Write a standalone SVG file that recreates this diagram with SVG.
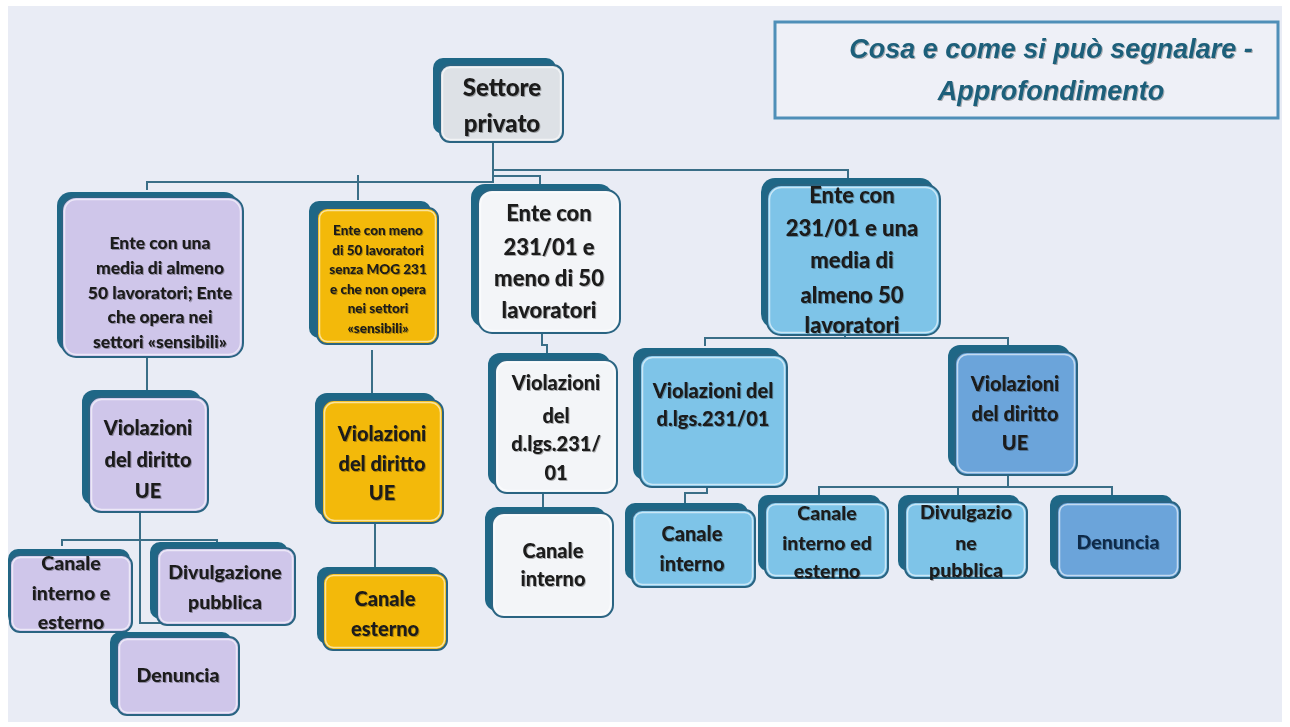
<svg xmlns="http://www.w3.org/2000/svg" width="1290" height="727" viewBox="0 0 1290 727">
<defs>
<filter id="ts" x="-10%" y="-30%" width="120%" height="160%">
<feDropShadow dx="1" dy="1" stdDeviation="0.7" flood-color="#000000" flood-opacity="0.3"/>
</filter>
<style>
.bg{fill:#e9ecf5}
.back{fill:#1f6786}
.front{stroke:#2a6482;stroke-width:2}
.hl{fill:none;stroke:#ffffff;stroke-opacity:0.6;stroke-width:1.5}
.gray{fill:#dde1e6}
.lav{fill:#cfc6ea}
.yel{fill:#f3b90a}
.wht{fill:#f3f5f8}
.blu{fill:#7ec4e8}
.dbl{fill:#6ba4da}
.t{font-family:Lato,"Liberation Sans",sans-serif;font-weight:900;fill:#1a1a1a;text-anchor:middle;filter:url(#ts)}
.s22{font-size:24px}
.s21{font-size:22px}
.s19{font-size:20px}
.s18{font-size:19.5px}
.s16{font-size:17.5px}
.s12{font-size:13.5px}
.title{font-family:"Liberation Sans",sans-serif;font-weight:bold;font-style:italic;font-size:27px;fill:#1e5f7a;text-anchor:middle;filter:url(#ts)}
.c{fill:none;stroke:#3a6e87;stroke-width:2}
</style>
</defs>
<rect x="0" y="0" width="1290" height="727" fill="#ffffff"/>
<rect class="bg" x="8" y="6" width="1274" height="716"/>

<g id="title">
<rect x="775" y="22" width="503" height="96" fill="#eef0f7" stroke="#4f8fb8" stroke-width="3"/>
<text class="title" x="1051" y="58">Cosa e come si può segnalare -</text>
<text class="title" x="1051" y="100">Approfondimento</text>
</g>

<g id="connectors">
<polyline class="c" points="493,142 493,183"/>
<polyline class="c" points="493,170 848,170 848,180"/>
<polyline class="c" points="493,176 540,176 540,186"/>
<polyline class="c" points="147,190 147,182 493,182"/>
<polyline class="c" points="358,175 358,200"/>
<polyline class="c" points="147,357 147,391"/>
<polyline class="c" points="140,512 140,623 168,623"/>
<polyline class="c" points="62,546 62,540 217,540 217,546"/>
<polyline class="c" points="372,350 372,393"/>
<polyline class="c" points="375,523 375,567"/>
<polyline class="c" points="542,333 542,345 547,345 547,353"/>
<polyline class="c" points="543,493 543,507"/>
<polyline class="c" points="845,335 845,338"/>
<polyline class="c" points="705,346 705,338 1008,338 1008,346"/>
<polyline class="c" points="707,487 707,493 685,493 685,503"/>
<polyline class="c" points="1008,475 1008,487"/>
<polyline class="c" points="819,495 819,487 1112,487 1112,495"/>
<polyline class="c" points="958,487 958,495"/>
</g>

<g id="n-settore">
<rect class="back" x="433" y="58" width="123" height="76" rx="10"/>
<rect class="front gray" x="440" y="65" width="123" height="77" rx="10"/>
<rect class="hl" x="442.5" y="67.5" width="118" height="72" rx="8"/>
<text class="t s22" x="502" y="96">Settore</text>
<text class="t s22" x="502" y="132">privato</text>
</g>

<g id="n-ente50">
<rect class="back" x="57" y="192" width="181" height="160" rx="14"/>
<rect class="front lav" x="62" y="197" width="181" height="160" rx="14"/>
<rect class="hl" x="64.5" y="199.5" width="176" height="155" rx="12"/>
<text class="t s16" x="160" y="249">Ente con una</text>
<text class="t s16" x="160" y="274">media di almeno</text>
<text class="t s16" x="160" y="299">50 lavoratori; Ente</text>
<text class="t s16" x="160" y="323">che opera nei</text>
<text class="t s16" x="160" y="348">settori «sensibili»</text>
</g>

<g id="n-entemeno50">
<rect class="back" x="309" y="201" width="122" height="137" rx="10"/>
<rect class="front yel" x="317" y="208" width="121" height="136" rx="10"/>
<rect class="hl" x="319.5" y="210.5" width="116" height="131" rx="8"/>
<text class="t s12" x="378" y="235">Ente con meno</text>
<text class="t s12" x="378" y="255">di 50 lavoratori</text>
<text class="t s12" x="378" y="274">senza MOG 231</text>
<text class="t s12" x="378" y="294">e che non opera</text>
<text class="t s12" x="378" y="313">nei settori</text>
<text class="t s12" x="378" y="333">«sensibili»</text>
</g>

<g id="n-ente231meno">
<rect class="back" x="471" y="184" width="142" height="143" rx="14"/>
<rect class="front wht" x="478" y="190" width="142" height="143" rx="14"/>
<rect class="hl" x="480.5" y="192.5" width="137" height="138" rx="12"/>
<text class="t s21" x="549" y="221">Ente con</text>
<text class="t s21" x="549" y="255">231/01 e</text>
<text class="t s21" x="549" y="286">meno di 50</text>
<text class="t s21" x="549" y="318">lavoratori</text>
</g>

<g id="n-ente231media">
<rect class="back" x="761" y="178" width="173" height="150" rx="14"/>
<rect class="front blu" x="767" y="185" width="173" height="150" rx="14"/>
<rect class="hl" x="769.5" y="187.5" width="168" height="145" rx="12"/>
<text class="t s21" x="852" y="203">Ente con</text>
<text class="t s21" x="852" y="236">231/01 e una</text>
<text class="t s21" x="852" y="268">media di</text>
<text class="t s21" x="852" y="303">almeno 50</text>
<text class="t s21" x="852" y="333">lavoratori</text>
</g>

<g id="n-lav-viol">
<rect class="back" x="82" y="390" width="119" height="115" rx="12"/>
<rect class="front lav" x="89" y="397" width="119" height="115" rx="12"/>
<rect class="hl" x="91.5" y="399.5" width="114" height="110" rx="10"/>
<text class="t s19" x="148" y="435">Violazioni</text>
<text class="t s19" x="148" y="467">del diritto</text>
<text class="t s19" x="148" y="498">UE</text>
</g>

<g id="n-lav-canale">
<rect class="back" x="8" y="549" width="122" height="77" rx="10"/>
<rect class="front lav" x="10" y="555" width="122" height="77" rx="10"/>
<rect class="hl" x="12.5" y="557.5" width="117" height="72" rx="8"/>
<text class="t s18" x="71" y="570">Canale</text>
<text class="t s18" x="71" y="600">interno e</text>
<text class="t s18" x="71" y="629">esterno</text>
</g>

<g id="n-lav-divulg">
<rect class="back" x="150" y="542" width="138" height="77" rx="10"/>
<rect class="front lav" x="157" y="548" width="138" height="77" rx="10"/>
<rect class="hl" x="159.5" y="550.5" width="133" height="72" rx="8"/>
<text class="t s18" x="225" y="579">Divulgazione</text>
<text class="t s18" x="225" y="609">pubblica</text>
</g>

<g id="n-lav-denuncia">
<rect class="back" x="110" y="632" width="122" height="78" rx="10"/>
<rect class="front lav" x="117" y="637" width="122" height="78" rx="10"/>
<rect class="hl" x="119.5" y="639.5" width="117" height="73" rx="8"/>
<text class="t s18" x="178" y="682">Denuncia</text>
</g>

<g id="n-yel-viol">
<rect class="back" x="315" y="393" width="121" height="123" rx="12"/>
<rect class="front yel" x="322" y="400" width="121" height="123" rx="12"/>
<rect class="hl" x="324.5" y="402.5" width="116" height="118" rx="10"/>
<text class="t s19" x="382" y="441">Violazioni</text>
<text class="t s19" x="382" y="471">del diritto</text>
<text class="t s19" x="382" y="500">UE</text>
</g>

<g id="n-yel-canale">
<rect class="back" x="317" y="567" width="124" height="77" rx="10"/>
<rect class="front yel" x="323" y="573" width="124" height="77" rx="10"/>
<rect class="hl" x="325.5" y="575.5" width="119" height="72" rx="8"/>
<text class="t s19" x="385" y="606">Canale</text>
<text class="t s19" x="385" y="636">esterno</text>
</g>

<g id="n-wht-viol">
<rect class="back" x="488" y="353" width="122" height="133" rx="12"/>
<rect class="front wht" x="495" y="360" width="122" height="133" rx="12"/>
<rect class="hl" x="497.5" y="362.5" width="117" height="128" rx="10"/>
<text class="t s19" x="556" y="390">Violazioni</text>
<text class="t s19" x="556" y="423">del</text>
<text class="t s19" x="556" y="451">d.lgs.231/</text>
<text class="t s19" x="556" y="480">01</text>
</g>

<g id="n-wht-canale">
<rect class="back" x="485" y="507" width="121" height="104" rx="12"/>
<rect class="front wht" x="492" y="513" width="121" height="104" rx="12"/>
<rect class="hl" x="494.5" y="515.5" width="116" height="99" rx="10"/>
<text class="t s19" x="553" y="558">Canale</text>
<text class="t s19" x="553" y="586">interno</text>
</g>

<g id="n-blu-viol231">
<rect class="back" x="633" y="348" width="147" height="132" rx="12"/>
<rect class="front blu" x="640" y="355" width="147" height="132" rx="12"/>
<rect class="hl" x="642.5" y="357.5" width="142" height="127" rx="10"/>
<text class="t s19" x="713" y="398">Violazioni del</text>
<text class="t s19" x="713" y="426">d.lgs.231/01</text>
</g>

<g id="n-dbl-violue">
<rect class="back" x="948" y="345" width="122" height="123" rx="12"/>
<rect class="front dbl" x="955" y="352" width="122" height="123" rx="12"/>
<rect class="hl" x="957.5" y="354.5" width="117" height="118" rx="10"/>
<text class="t s19" x="1015" y="391">Violazioni</text>
<text class="t s19" x="1015" y="421">del diritto</text>
<text class="t s19" x="1015" y="450">UE</text>
</g>

<g id="n-blu-canale">
<rect class="back" x="625" y="503" width="123" height="77" rx="10"/>
<rect class="front blu" x="632" y="510" width="123" height="77" rx="10"/>
<rect class="hl" x="634.5" y="512.5" width="118" height="72" rx="8"/>
<text class="t s19" x="692" y="541">Canale</text>
<text class="t s19" x="692" y="571">interno</text>
</g>

<g id="n-blu-canaleed">
<rect class="back" x="758" y="495" width="123" height="76" rx="10"/>
<rect class="front blu" x="765" y="502" width="123" height="76" rx="10"/>
<rect class="hl" x="767.5" y="504.5" width="118" height="71" rx="8"/>
<text class="t s18" x="827" y="520">Canale</text>
<text class="t s18" x="827" y="550">interno ed</text>
<text class="t s18" x="827" y="578">esterno</text>
</g>

<g id="n-blu-divulg">
<rect class="back" x="898" y="495" width="122" height="76" rx="10"/>
<rect class="front blu" x="905" y="502" width="122" height="76" rx="10"/>
<rect class="hl" x="907.5" y="504.5" width="117" height="71" rx="8"/>
<text class="t s18" x="966" y="519">Divulgazio</text>
<text class="t s18" x="966" y="550">ne</text>
<text class="t s18" x="966" y="577">pubblica</text>
</g>

<g id="n-dbl-denuncia">
<rect class="back" x="1050" y="495" width="123" height="76" rx="10"/>
<rect class="front dbl" x="1057" y="502" width="123" height="76" rx="10"/>
<rect class="hl" x="1059.5" y="504.5" width="118" height="71" rx="8"/>
<text class="t s18" x="1118" y="549" style="fill:#0e2a4a">Denuncia</text>
</g>
</svg>
